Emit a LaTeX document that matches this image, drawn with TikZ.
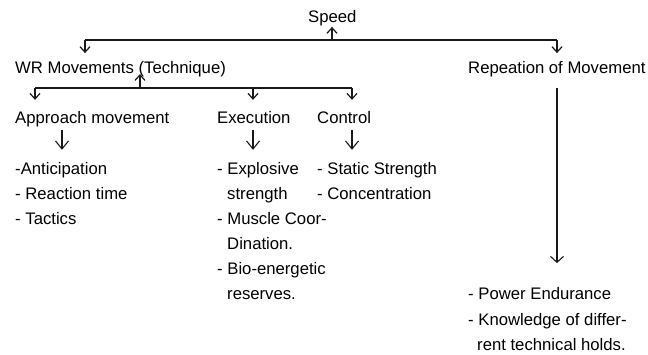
\documentclass[tikz,border=0pt]{standalone}
\usepackage{fontspec}
\setmainfont{Liberation Sans}
\usetikzlibrary{arrows.meta}
\begin{document}
\begin{tikzpicture}[x=1pt,y=-1pt,
  txt/.style={anchor=base west,inner sep=0pt,text height=12pt,text depth=3.5pt,
    font=\fontsize{16.7}{20}\selectfont,text=black},
  ln/.style={line width=1.2pt,black!90},
  con/.style={ln,-{Straight Barb[length=5.5pt,width=10pt,line width=1.2pt]}},
  down/.style={line width=1.1pt,black!90,-{Straight Barb[length=8pt,width=13pt,line width=1.1pt]}}]
\useasboundingbox (0,0) rectangle (648,354);
% top level
\node[txt] (speed) at (308,22.7) {Speed};
\node[txt] (wr) at (15,73.3) {WR Movements (Technique)};
\node[txt] (rep) at (468,73.3) {Repeation of Movement};
% second level
\node[txt] (app) at (15,123) {Approach movement};
\node[txt] (exe) at (217,123) {Execution};
\node[txt] (ctl) at (317,123) {Control};
% lists
\node[txt] (a1) at (15,174) {-Anticipation};
\node[txt] (a2) at (15,199) {- Reaction time};
\node[txt] (a3) at (15,224) {- Tactics};
\node[txt] (e1) at (217,174) {- Explosive};
\node[txt] (e2) at (227,199) {strength};
\node[txt] (e3) at (217,224) {- Muscle Coor-};
\node[txt] (e4) at (227,249) {Dination.};
\node[txt] (e5) at (217,274) {- Bio-energetic};
\node[txt] (e6) at (227,299) {reserves.};
\node[txt] (c1) at (317,174) {- Static Strength};
\node[txt] (c2) at (317,199) {- Concentration};
\node[txt] (r1) at (468,299.3) {- Power Endurance};
\node[txt] (r2) at (468,325) {- Knowledge of differ-};
\node[txt] (r3) at (477,350) {rent technical holds.};
% bar 1
\coordinate (b1L) at (85,40);
\coordinate (b1M) at (332,40);
\coordinate (b1R) at (557,40);
\draw[ln] (b1L) -- (b1R);
\draw[con] (b1M) -- ([yshift=-0.5pt]speed.south -| b1M);
\draw[con] (b1L) -- ([yshift=8pt]wr.north -| b1L);
\draw[con] (b1R) -- ([yshift=8pt]rep.north -| b1R);
% bar 2
\coordinate (b2L) at (35,88);
\coordinate (b2M) at (140,88);
\coordinate (b2E) at (253,88);
\coordinate (b2R) at (352,88);
\draw[ln] (b2L) -- (b2R);
\draw[con] (b2M) -- ([yshift=3pt]wr.south -| b2M);
\draw[con] (b2L) -- ([yshift=11pt]app.north -| b2L);
\draw[con] (b2E) -- ([yshift=11pt]exe.north -| b2E);
\draw[con] (b2R) -- ([yshift=11pt]ctl.north -| b2R);
% list arrows
\coordinate (xa) at (62,0);
\draw[down,shorten <=3.5pt,shorten >=12pt] (app.south -| xa) -- (a1.north -| xa);
\draw[down,shorten <=3.5pt,shorten >=12pt] (exe.south -| b2E) -- (e1.north -| b2E);
\draw[down,shorten <=3.5pt,shorten >=12pt] (ctl.south -| b2R) -- (c1.north -| b2R);
% repetition arrow
\coordinate (xr) at (557,0);
\draw[ln,-{Straight Barb[length=6pt,width=13pt,line width=1.1pt]},shorten <=10.5pt,shorten >=24pt] (rep.south -| xr) -- (r1.north -| xr);
\end{tikzpicture}
\end{document}
